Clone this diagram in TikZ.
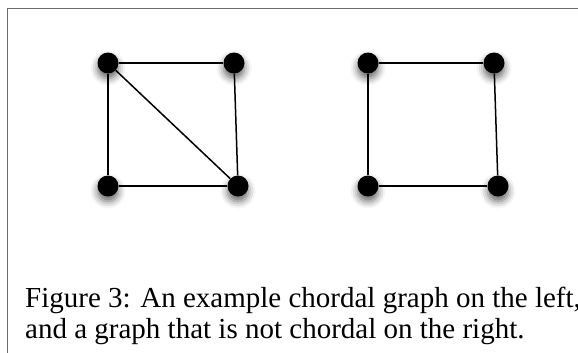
\documentclass[tikz,border=0pt]{standalone}
\usepackage{fontspec}
\setmainfont{Liberation Serif}
\usepackage{tikz}
\usetikzlibrary{positioning,shadows.blur}

\begin{document}
\begin{tikzpicture}[x=1pt, y=-1pt, every node/.style={font=\fontsize{29}{31}\selectfont},
	vtx/.style={circle, fill=black, minimum size=21pt, inner sep=0pt, blur shadow={shadow xshift=0pt, shadow yshift=-5pt, shadow blur radius=7pt, shadow opacity=60}},
	edge/.style={line width=1.5pt}]
	\useasboundingbox (0,0) rectangle (578,353);
	\draw[gray!85!black, line width=1.6pt] (578,8.5) -- (7.5,8.5) -- (7.5,353);
	% chordal graph
	\begin{scope}
		\node[vtx] (a1) at (108,63) {}; \node[vtx] (a2) at (234,63) {}; \node[vtx] (a3) at (108,186) {}; \node[vtx] (a4) at (238,186) {};
	\end{scope}
	% cycle of four, no chord
	\begin{scope}
		\node[vtx] (b1) at (368,63) {}; \node[vtx] (b2) at (494,63) {}; \node[vtx] (b3) at (368,186) {}; \node[vtx] (b4) at (498,186) {};
	\end{scope}
	\foreach \a/\b in {a1/a2, a2/a4, a4/a3, a3/a1, a1/a4, b1/b2, b2/b4, b4/b3, b3/b1} {\draw[edge] (\a) -- (\b);}
	\node[anchor=base west, inner sep=0pt] (capA) at (25,307) {Figure 3: An example chordal graph on the left,};
	\node[anchor=base west, inner sep=0pt] (capB) at (25,338) {and a graph that is not chordal on the right.};
\end{tikzpicture}
\end{document}
